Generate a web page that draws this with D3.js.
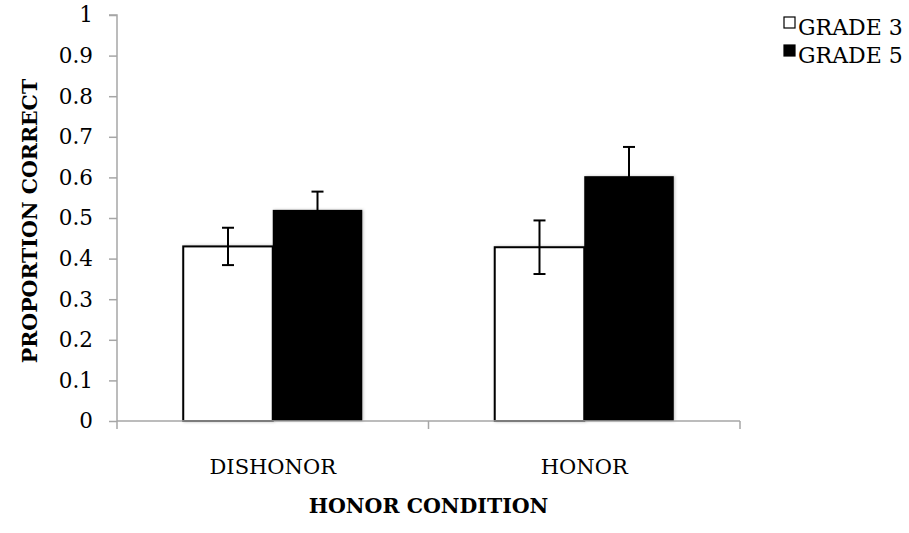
<!DOCTYPE html>
<html>
<head>
<meta charset="utf-8">
<script src="https://cdn.jsdelivr.net/npm/d3@7"></script>
<style>
  html, body { margin: 0; padding: 0; background: #fff; }
  svg { display: block; }
  text { font-family: "DejaVu Serif", "Liberation Serif", serif; fill: #000; }
</style>
</head>
<body>
<svg id="chart" width="909" height="533"></svg>
<script>
const categories = ["DISHONOR", "HONOR"];
const seriesNames = ["GRADE 3", "GRADE 5"];
const grade3 = [0.43, 0.428];
const grade5 = [0.52, 0.603];
const grade3Err = [0.046, 0.066];
const grade5Err = [0.045, 0.072];
const yTicks = [0, 0.1, 0.2, 0.3, 0.4, 0.5, 0.6, 0.7, 0.8, 0.9, 1];
const yTickLabels = ["0", "0.1", "0.2", "0.3", "0.4", "0.5", "0.6", "0.7", "0.8", "0.9", "1"];
const xTitle = "HONOR CONDITION";
const yTitle = "PROPORTION CORRECT";

const seriesValues = [grade3, grade5];
const seriesErrs = [grade3Err, grade5Err];
const seriesFill = ["#ffffff", "#000000"];

const svg = d3.select("#chart");
const plot = { left: 117, right: 740, top: 15, bottom: 421 };
const axisColor = "#a6a6a6";

const defs = svg.append("defs");
const f = defs.append("filter").attr("id", "shadow").attr("x", "-10%").attr("y", "-10%").attr("width", "130%").attr("height", "120%");
f.append("feDropShadow").attr("dx", 1).attr("dy", 0).attr("stdDeviation", 1.5).attr("flood-color", "#000").attr("flood-opacity", 0.25);

const y = d3.scaleLinear().domain([0, 1]).range([plot.bottom, plot.top]);
const x0 = d3.scaleBand().domain(categories).range([plot.left, plot.right]).paddingInner(0).paddingOuter(0);
const x1 = d3.scaleBand().domain(seriesNames).range([0, x0.bandwidth()]).paddingInner(0).paddingOuter(0.74);

// bars
const data = [];
categories.forEach((c, i) => {
  seriesNames.forEach((s, j) => {
    data.push({ cat: c, ser: s, j: j, v: seriesValues[j][i], e: seriesErrs[j][i] });
  });
});

const g = svg.append("g");
g.selectAll("rect.bar").data(data).join("rect")
  .attr("class", "bar")
  .attr("x", d => x0(d.cat) + x1(d.ser))
  .attr("y", d => y(d.v))
  .attr("width", x1.bandwidth())
  .attr("height", d => y(0) - y(d.v))
  .attr("fill", d => seriesFill[d.j])
  .attr("stroke", "#000")
  .attr("stroke-width", d => d.j === 0 ? 2 : 0)
  .attr("filter", "url(#shadow)");

// axes
const yAxis = d3.axisLeft(y).tickValues(yTicks).tickFormat((d, i) => yTickLabels[i]).tickSize(8).tickPadding(16);
const ya = svg.append("g").attr("transform", `translate(${plot.left},0)`).call(yAxis);
ya.select(".domain").attr("stroke", axisColor).attr("stroke-width", 1.5).attr("d", `M-8,${plot.top}H0V${plot.bottom}`);
ya.selectAll(".tick line").attr("stroke", axisColor).attr("stroke-width", 1.5);
ya.selectAll(".tick text").attr("font-size", 21.5).attr("font-family", "DejaVu Serif").attr("fill", "#000");

const xBoundaries = [plot.left, ...categories.slice(1).map(c => x0(c)), plot.right];
const xa = svg.append("g");
xa.append("line").attr("x1", plot.left).attr("x2", plot.right).attr("y1", y(0)).attr("y2", y(0))
  .attr("stroke", axisColor).attr("stroke-width", 1.5);
xa.selectAll("line.xt").data(xBoundaries).join("line").attr("class", "xt")
  .attr("x1", d => d).attr("x2", d => d).attr("y1", y(0)).attr("y2", y(0) + 8)
  .attr("stroke", axisColor).attr("stroke-width", 1.5);
xa.selectAll("text.cat").data(categories).join("text").attr("class", "cat")
  .attr("x", d => x0(d) + x0.bandwidth() / 2)
  .attr("y", 474)
  .attr("text-anchor", "middle")
  .attr("font-size", 21)
  .text(d => d);

// error bars
const eb = svg.append("g").attr("stroke", "#000").attr("stroke-width", 2).attr("fill", "none");
data.forEach(d => {
  const cx = x0(d.cat) + x1(d.ser) + x1.bandwidth() / 2;
  const t = y(d.v + d.e), b = y(d.v - d.e);
  eb.append("line").attr("x1", cx).attr("x2", cx).attr("y1", t).attr("y2", b);
  eb.append("line").attr("x1", cx - 6).attr("x2", cx + 6).attr("y1", t).attr("y2", t);
  eb.append("line").attr("x1", cx - 6).attr("x2", cx + 6).attr("y1", b).attr("y2", b);
});

// titles
svg.append("text").attr("x", (plot.left + plot.right) / 2).attr("y", 513)
  .attr("text-anchor", "middle").attr("font-size", 20.5).attr("font-weight", "bold").text(xTitle);
svg.append("text").attr("transform", `translate(37,${(plot.top + plot.bottom) / 2 + 3}) rotate(-90)`)
  .attr("text-anchor", "middle").attr("font-size", 20.5).attr("font-weight", "bold").text(yTitle);

// legend
const lg = svg.append("g");
seriesNames.forEach((s, j) => {
  const yy = 17 + j * 28;
  lg.append("rect").attr("x", 784).attr("y", yy).attr("width", 11).attr("height", 11)
    .attr("fill", seriesFill[j]).attr("stroke", "#000").attr("stroke-width", 1.2);
  lg.append("text").attr("x", 798).attr("y", yy + 18).attr("font-size", 22).text(s);
});
</script>
</body>
</html>
